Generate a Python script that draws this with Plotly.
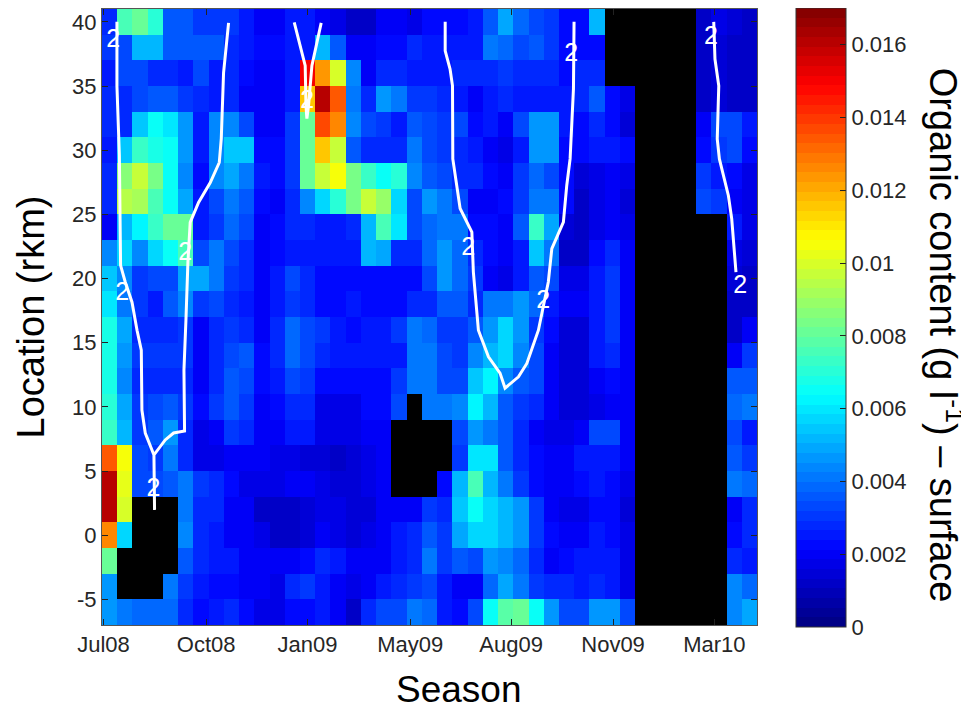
import plotly.graph_objects as go

_ = None
# Organic content in 1e-3 g/l; one list per location, columns are sampling surveys; None = no data
location_rkm = [40, 38, 36, 34, 32, 30, 28, 26, 24, 22, 20, 18, 16, 14, 12, 10, 8, 6, 4, 2, 0, -2, -4, -6]
r40 = [2.8,7.5,8.2,7,3.5,3.5,3,3,3,2.5,2,2,2.5,2.5,2,1.7,1.3,1.3,2,2,1.7,2.2,2.2,2.2,2.4,3.5,5,3.8,3.4,3,2.3,2.2,5.3,_,_,_,_,_,_,1.2,1.8,1.5,1.3]
r38 = [3,3.2,5.2,5.2,3.5,3.7,3.7,3.7,2.8,2.5,2.2,2.2,2.5,2.6,5.2,3.5,2,2,2.2,2.2,2.8,2.5,2.4,2.5,2.5,4,3.8,3.2,3.5,3,2.3,2.2,2.2,_,_,_,_,_,_,1.2,1.5,1.3,1.3]
r36 = [2.6,3.3,3.3,2.9,2.9,2.5,3.2,2.6,2.8,2.2,2,2,2.6,15,12.3,10,4.5,2.1,2.8,2.8,2.5,2.5,2.5,2.7,2.7,2.7,3,2.8,2.8,2.7,2.2,2.7,2.8,_,_,_,_,_,_,1.2,1.5,1.2,1.2]
r34 = [2.9,2.9,3.3,3.6,3.6,3.1,2.7,2.6,2.7,2.1,2,2.1,2.4,11.6,16,13.4,4.2,2.9,4.7,4.2,3,3,2.9,2.4,2.1,2.5,2.7,2.5,2.4,2.4,2.6,2.9,3.5,2.2,1.6,_,_,_,_,1.2,1.5,1.2,1.2]
r32 = [2.7,2.8,5.5,6.4,6,4.6,2.5,4.4,4.3,3.4,2,2.1,3,8.2,13.8,12.5,4.3,3.3,3.1,2.6,3.6,3.2,3,3.2,2.3,2.5,1.9,3.2,4.6,4.6,2.6,2.3,2.8,2.2,1.5,_,_,_,_,2.1,3.4,3.4,2.4]
r30 = [2.6,5.4,7.2,6.8,6.6,4.6,2.6,4.5,5.4,5.4,2.3,2.2,3,8.2,11.6,9.7,3.6,2.9,2.9,2.9,4.2,3.3,3.1,2.8,2.5,2,1.6,2.4,4.7,4.7,2.2,2.2,2.4,2.6,2.3,_,_,_,_,2.3,3,3.4,2.2]
r28 = [2.7,8.6,9.6,8.3,6.5,4.3,2.3,4.4,4.8,4.2,2.5,2.2,3,8,9.6,10.4,8.4,7.4,6.5,7,4.3,3.5,3.2,2.9,2.8,2.3,2.1,3,3.9,3.3,2.2,1.5,1.8,2,1.8,_,_,_,_,3,2.4,2.2,1.6]
r26 = [2.7,9.4,9.2,7.7,6.5,4.9,2.6,3.2,4.1,3.5,2.2,2.1,2.8,4.3,5.8,7,8.3,9.6,9,5.7,3.3,4.7,4.1,3.3,2.1,2,2.2,3.1,4,4,2.3,1.1,1.7,1.9,1.5,_,_,_,_,3.2,3,2.1,1.8]
r24 = [1.9,5.3,6.3,7.2,8.2,8.2,2.6,3,3.8,3.3,2.1,2.3,2.7,2.7,2.5,2.6,2.9,5.3,7.7,6,3.2,3.8,4,4,2.2,2.2,2.1,3.7,7.2,5,1.5,1.2,1.7,1.9,1.7,_,_,_,_,_,_,2.4,1.6]
r22 = [4.4,5.6,4.4,5.8,6.5,7.5,3.2,4,3.2,2.9,2.1,2.2,2.6,2.5,2.4,2.4,2.5,5.3,5,2.7,2.9,3.8,4.6,3.9,2.8,2.2,2,2.6,5.4,4,1.2,1.2,2.2,2.8,2.1,_,_,_,_,_,_,1.6,1.4]
r20 = [5.4,4.4,3,3.2,3.4,4.8,5,4.2,3,2.7,2,2.5,3.2,2.8,2.2,2.2,2.3,2.2,2.2,2.2,2.2,3.4,4.6,3.8,3,2,1.7,2.4,3.5,3.2,1.6,1.7,2.5,3,2.1,_,_,_,_,_,_,1.5,1.3]
r18 = [6,4.2,3,2.4,3.5,4.4,3.1,3.2,2.9,2.5,1.9,2.4,3.1,2.8,2.2,2.2,2.6,2.2,2.2,2.2,2.9,2.9,3.6,3.6,2.9,4.1,4.2,4.6,3.9,2.6,2,2,2.6,3,2.1,_,_,_,_,_,_,1.1,1.2]
r16 = [6.8,4.8,2.9,2.9,2.9,3,2.1,2.7,3,2.8,1.9,2.9,3.9,3.3,3,2.6,2.2,2.4,2.6,3.1,4,3.8,3.1,3.1,3.6,4.6,5.6,4.6,3,2.2,1.5,1.5,2.6,3,2.1,_,_,_,_,_,_,1.2,2]
r14 = [6.8,4.6,3,3,3,3,2,2.8,3.4,3.5,2.2,2.8,3.8,3.2,2.8,2.4,2.4,2.4,2.4,2.6,4,4,3.2,3,4.4,5.2,5.6,4.4,3.3,2.1,1.4,1.5,2.5,2.8,2.1,_,_,_,_,_,_,2,3]
r12 = [6.9,4.3,2.9,2.9,2.9,2.9,2,2.9,3.6,3.2,2.2,2.4,3.2,3,2.3,2.2,2.2,2.3,2.2,3,4.2,4,3.3,3.3,5.4,6.3,4.4,3.7,3.2,2.1,1.5,1.5,2.1,2.2,2.1,_,_,_,_,_,_,3.5,3.7]
r10 = [7,4.8,3,3.2,3.6,3,2.2,3,3.6,3,2.1,2.2,2.9,2.8,1.8,1.8,1.8,2.2,2.3,3.2,_,4.2,4.2,4.3,6.2,5.3,3.7,3,2.9,2,1.4,1.5,1.8,2,2.1,_,_,_,_,_,_,3.8,4.2]
r08 = [7.3,5.1,3.1,3.6,4.7,2.8,1.6,2.1,3,2.8,2,2,2.4,2.4,1.7,1.6,1.6,1.9,2.1,_,_,_,_,3.2,4.6,4.2,3.7,2.8,1.9,1.6,1.8,2,3.3,3.2,2.1,_,_,_,_,_,_,3.2,2.5]
r06 = [13.5,10.6,3.2,3.1,4,2.8,1.6,1.7,2.1,2.1,1.9,1.8,1.8,1.5,1.5,1.3,1.5,1.7,2,_,_,_,_,3,6.1,6.1,3.7,2.7,2.2,1.9,2.1,2.4,2.6,2.5,2.1,_,_,_,_,_,_,3.5,3]
r04 = [16,10.1,3.3,3.4,3.7,4.2,3,2.9,2.2,1.8,1.8,1.8,1.9,2,1.8,1.4,1.5,1.7,1.9,_,_,_,2.2,5.2,7.6,5.3,4,3,2.2,2.1,2.1,2.2,2.4,2.2,1.6,_,_,_,_,_,_,4,3.9]
r02 = [16,9.9,_,_,_,4.2,2.9,2.7,2.1,1.9,1.1,1.2,1.3,1.5,1.6,1.6,1.4,1.4,2,2,2.1,3,2.8,5.4,6.4,5.8,5.2,4.6,3,2,1.8,1.8,2.2,2.2,1.5,_,_,_,_,_,_,2,2.9]
r00 = [12.7,5.8,_,_,_,4.3,2.8,2.5,2.1,1.9,1.6,1.2,1.2,1.4,2.1,1.7,1.5,1.7,1.9,2.4,2.7,3.6,3,4.8,5.6,5.6,5.2,4.6,3,2.2,2,2,2.4,2.2,1.6,_,_,_,_,_,_,2.2,2.9]
rm2 = [8.2,_,_,_,_,3.6,2.8,2.6,2.4,2,1.9,1.9,2,2.2,2.9,2.5,2,2.1,2.1,2.6,2.9,4,3,3.6,3.4,4.7,4.5,3.8,2.9,2,2.2,2.4,2.6,2.6,1.6,_,_,_,_,_,_,2.8,2.5]
rm4 = [4.6,_,_,_,4.1,3,2.4,2.2,2.3,2.1,2,1.8,2.8,3,2.5,2,1.6,2.1,2.5,2.9,3.1,3.2,2.4,2,2,3.9,5,4.2,3,2.8,2.8,2.6,2.8,2.6,1.8,_,_,_,_,_,_,4.3,3.9]
rm6 = [4.6,4.2,3.8,3.8,3.8,2.9,2.2,2.6,2.8,2.3,1.6,1.7,2.2,2.3,2.4,1.9,1.3,2.8,3.2,3.4,4,3.8,2.4,2.2,3.2,6.4,7.9,8,6.5,4.6,3.2,3.2,4.6,4.6,3.3,_,_,_,_,_,_,4.3,5]
rows = [r40,r38,r36,r34,r32,r30,r28,r26,r24,r22,r20,r18,r16,r14,r12,r10,r08,r06,r04,r02,r00,rm2,rm4,rm6]

season_ticks = [-0.4, 6.34, 12.99, 19.73, 26.36, 33.05, 39.7]
season_labels = ["Jul08", "Oct08", "Jan09", "May09", "Aug09", "Nov09", "Mar10"]
location_ticks = [-5, 0, 5, 10, 15, 20, 25, 30, 35, 40]
cbar_ticks = [0, 0.002, 0.004, 0.006, 0.008, 0.01, 0.012, 0.014, 0.016]
cbar_labels = ["0", "0.002", "0.004", "0.006", "0.008", "0.01", "0.012", "0.014", "0.016"]

# Contour level 2 (survey index, rkm)
c1_x = [.48,.48,.64,.72,1.03,1.47,1.80,2.08,2.12,2.34,2.91,2.91,2.95,2.91,3.65,4.20,4.92,4.88,5.01,5.14,5.29,5.84,6.61,7.20,7.33,7.48,7.81]
c1_y = [40,35.02,29.58,21.03,19.71,18.15,15.97,14.42,9.75,7.96,6.25,4.31,1.97,6.25,7.42,7.96,8.12,12.86,16.75,21.26,24.37,25.93,27.48,29.04,30.90,36.03,39.92]
c2_x = [12.12,12.84,12.89,12.95,13.06,13.28,13.89]
c2_y = [39.95,36.58,33.47,32.46,33.47,36.58,39.92]
c3_x = [22.03,22.03,22.35,22.51,22.53,22.79,23.01,23.78,23.88,24.21,24.87,25.63,25.96,26.84,27.39,28.15,28.80,29.03,29.79,30.01,30.23,30.45,30.49]
c3_y = [40,37.74,36.32,35.02,29.32,27.01,25.46,23.62,20.5,15.97,13.9,12.63,11.46,12.34,13.38,15.97,19.73,22.33,24.39,27.25,29.32,34.77,40]
c4_x = [39.66,39.74,39.99,39.89,40.03,40.62,40.84,41.12]
c4_y = [40,37.10,35.02,30.88,29.32,26.47,24.66,20.5]
label_x = [.24,.83,4.97,2.87,12.97,23.54,28.46,30.30,39.48,41.39]
label_y = [38.52,18.85,21.96,3.53,33.78,22.35,18.15,37.43,38.76,19.39]


def jet(t):
    def ch(v):
        return max(0.0, min(1.0, 1.5 - abs(4 * t - v)))
    return f"rgb({round(255*ch(3))},{round(255*ch(2))},{round(255*ch(1))})"


N = 64
colorscale = []
for i in range(N):
    c = jet((i + 0.5) / N)
    colorscale += [[i / N, c], [(i + 1) / N, c]]

z = [[None if v is None else v / 1000 for v in row] for row in rows]
assert all(len(r) == 43 for r in rows)

TXT = "#262626"
ZMAX = 0.017
fig = go.Figure()
fig.add_trace(go.Heatmap(
    z=z, x=list(range(43)), y=location_rkm, zmin=0, zmax=ZMAX, colorscale=colorscale,
    hoverongaps=False,
    colorbar=dict(
        x=1.0595, xanchor="left", xpad=0, y=-0.0035, yanchor="bottom", ypad=0,
        lenmode="pixels", len=619, thicknessmode="pixels", thickness=50,
        outlinecolor="#333333", outlinewidth=1,
        tickmode="array", tickvals=cbar_ticks, ticktext=cbar_labels,
        ticks="inside", ticklen=6, tickcolor="#222222",
        tickfont=dict(family="Liberation Sans", size=22, color=TXT),
    ),
))
for xs, ys in [(c1_x, c1_y), (c2_x, c2_y), (c3_x, c3_y), (c4_x, c4_y)]:
    fig.add_trace(go.Scatter(x=xs, y=ys, mode="lines", line=dict(color="white", width=3),
                             showlegend=False, hoverinfo="skip"))
fig.add_trace(go.Scatter(x=label_x, y=label_y, mode="text", text=["2"] * len(label_x),
                         textfont=dict(family="Liberation Sans", size=25, color="white"),
                         showlegend=False, hoverinfo="skip"))

# Left-edge tick marks of the colour bar (the native ones only sit on the right edge)
for v in cbar_ticks[1:]:
    yf = -0.0035 + v / ZMAX * 619 / 616
    fig.add_shape(type="line", xref="paper", yref="paper", x0=1.0595, x1=1.0687, y0=yf, y1=yf,
                  line=dict(color="#222222", width=1))

TITLE_FONT = dict(family="Liberation Sans", size=38, color="black")
# Titles placed as annotations: the reference's are off-centre and the bar title reads top to bottom
fig.add_annotation(text="Organic content (g l<sup>-1</sup>) – surface", xref="paper", yref="paper",
                   x=1.289, y=0.4708, textangle=90, showarrow=False, font=TITLE_FONT,
                   xanchor="center", yanchor="middle")
fig.add_annotation(text="Season", xref="paper", yref="paper", x=0.545, y=-0.1055,
                   showarrow=False, font=dict(family="Liberation Sans", size=37, color="black"),
                   xanchor="center", yanchor="middle")

fig.update_layout(
    width=961, height=704, paper_bgcolor="white", plot_bgcolor="black",
    margin=dict(l=94, r=212, t=1, b=87, autoexpand=False),
    showlegend=False,
    xaxis=dict(range=[-0.5, 42.5], tickmode="array", tickvals=season_ticks, ticktext=season_labels,
               ticks="inside", ticklen=6, tickcolor="#222222", showgrid=False, zeroline=False,
               showline=True, linecolor="#555555", linewidth=1, mirror="ticks",
               tickfont=dict(family="Liberation Sans", size=22, color=TXT)),
    yaxis=dict(range=[-7, 41], tickmode="array", tickvals=location_ticks,
               ticktext=[str(v) for v in location_ticks],
               ticks="inside", ticklen=6, tickcolor="#222222", showgrid=False, zeroline=False,
               showline=True, linecolor="#555555", linewidth=1, mirror="ticks",
               tickfont=dict(family="Liberation Sans", size=22, color=TXT),
               title=dict(text="Location (rkm)", standoff=15, font=TITLE_FONT)),
)
fig.write_html("out.html")
